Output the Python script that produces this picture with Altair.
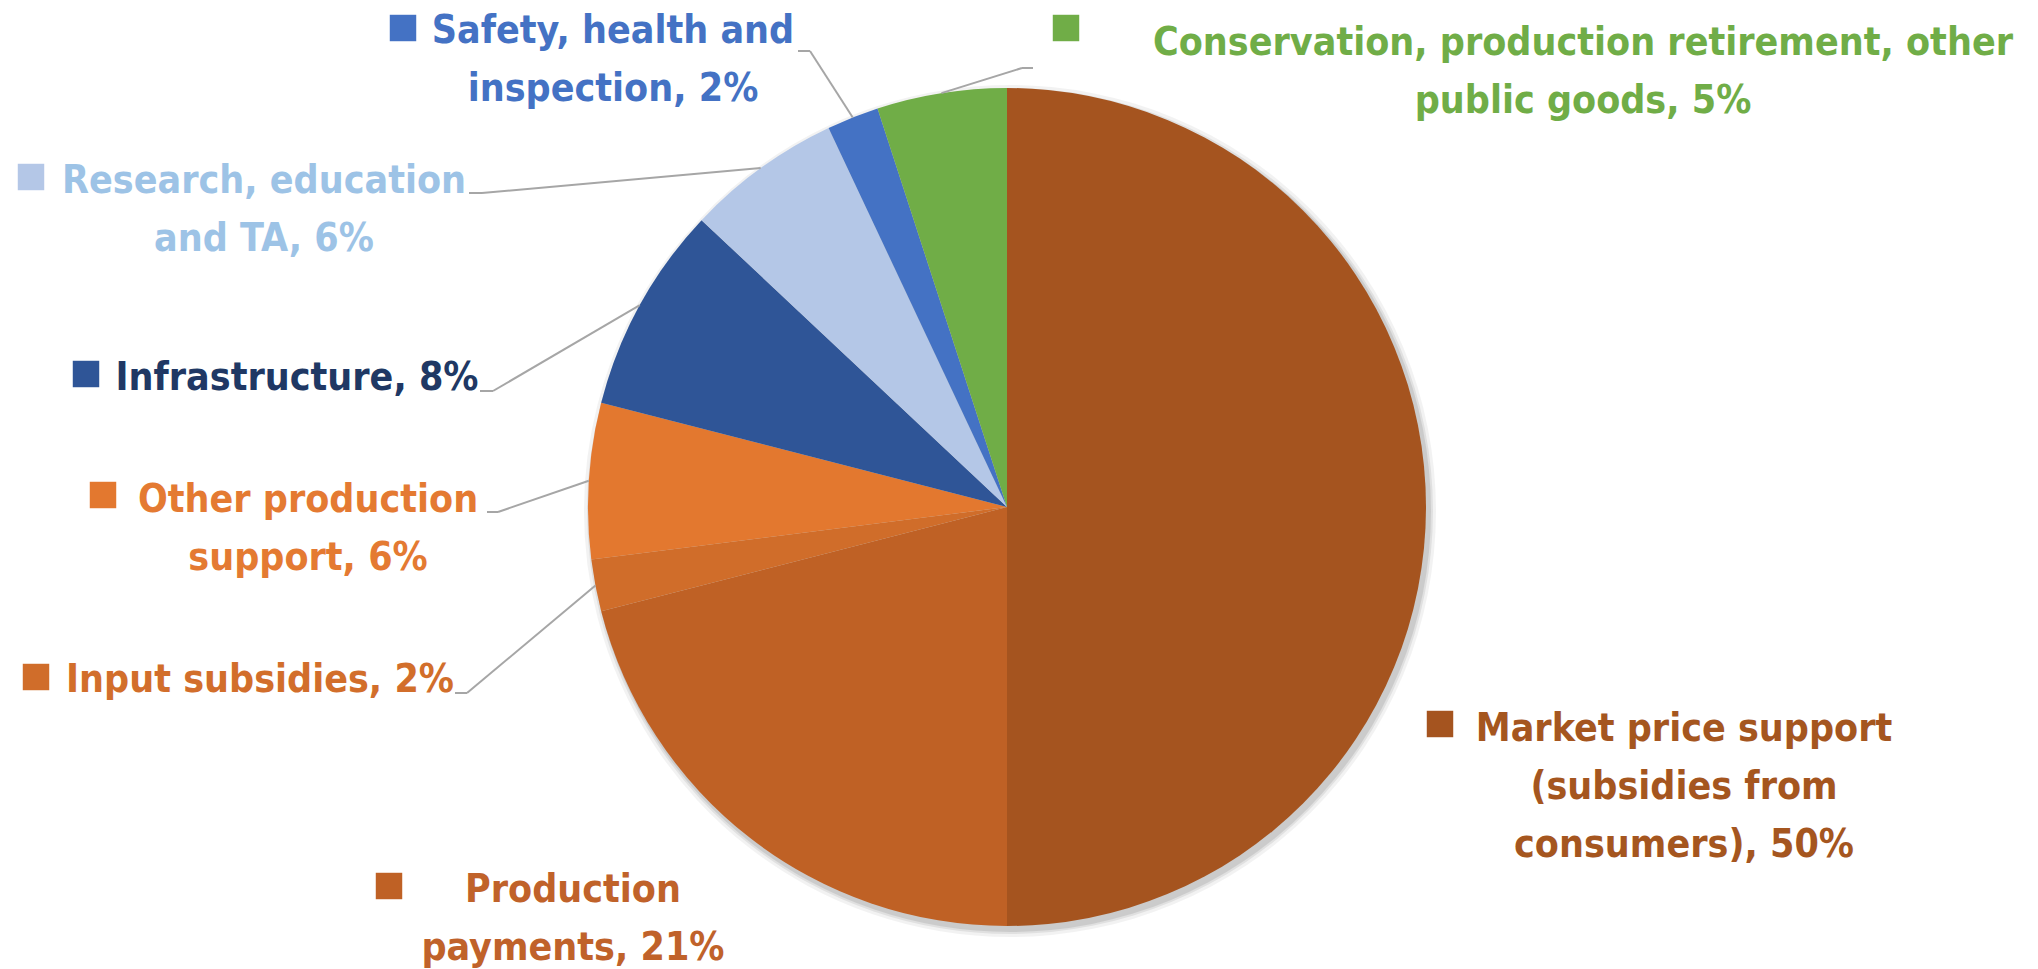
import math
import altair as alt
import pandas as pd

# ---------------- data ----------------
categories = [
    "Market price support (subsidies from consumers)",
    "Production payments",
    "Input subsidies",
    "Other production support",
    "Infrastructure",
    "Research, education and TA",
    "Safety, health and inspection",
    "Conservation, production retirement, other public goods",
]
shares = [50, 21, 2, 6, 8, 6, 2, 5]
label_lines = [
    ["Market price support", "(subsidies from", "consumers), 50%"],
    ["Production", "payments, 21%"],
    ["Input subsidies, 2%"],
    ["Other production", "support, 6%"],
    ["Infrastructure, 8%"],
    ["Research, education", "and TA, 6%"],
    ["Safety, health and", "inspection, 2%"],
    ["Conservation, production retirement, other", "public goods, 5%"],
]

# ---------------- styles / layout ----------------
slice_colors = ["#A5541F", "#BF6125", "#D06D2A", "#E3782F",
                "#2F5597", "#B4C7E7", "#4472C4", "#70AD47"]
text_colors = ["#A5561F", "#C0622A", "#D26E2B", "#E47A32",
               "#203864", "#9DC3E6", "#4472C4", "#70AD47"]
W, H = 2038, 969
CX, CY, R = 1007, 507, 419
FONT = "Liberation Sans Narrow, DejaVu Sans Condensed, Roboto, sans-serif"
FS = 39
# per category: first-line centre x, first baseline y
label_anchor = [(1684, 741), (573, 902), (260, 692), (308, 512),
                (297, 390), (264, 193), (613, 43), (1583, 55)]
line_gap = 58
square_pos = [(1440, 724), (389, 886), (36, 677), (103, 495),
              (86, 374), (31, 177), (403, 28), (1066, 28)]
# leader: label-side end point and elbow (None = no leader)
leader_pts = [None, None, ((455, 693), (467, 693)), ((487, 512), (498, 512)),
              ((480, 391), (493, 391)), ((469, 193), (482, 193)),
              ((798, 51), (810, 51)), ((1033, 68), (1022, 68))]

# ---------------- frames ----------------
pie_df = pd.DataFrame({"category": categories, "value": shares,
                       "idx": list(range(len(categories)))})

rows = []
for i, lines in enumerate(label_lines):
    x0, y0 = label_anchor[i]
    for j, t in enumerate(lines):
        rows.append({"text": t, "x": x0, "y": y0 + j * line_gap, "tc": text_colors[i]})
text_df = pd.DataFrame(rows)

sq_df = pd.DataFrame({"x": [p[0] for p in square_pos], "y": [p[1] for p in square_pos],
                      "category": categories})

total = sum(shares)
seg = []
cum = 0
for i, v in enumerate(shares):
    mid = (cum + v / 2) / total * 2 * math.pi
    cum += v
    if leader_pts[i] is None:
        continue
    ex, ey = CX + R * math.sin(mid), CY - R * math.cos(mid)
    (ax, ay), (bx, by) = leader_pts[i]
    seg.append({"x": ax, "y": ay, "x2": bx, "y2": by})
    seg.append({"x": bx, "y": by, "x2": ex, "y2": ey})
seg_df = pd.DataFrame(seg)

xs = alt.Scale(domain=[0, W], nice=False, zero=False)
ys = alt.Scale(domain=[0, H], nice=False, zero=False, reverse=True)
cscale = alt.Scale(domain=categories, range=slice_colors)

shadow_layers = []
for k, (rr, op) in enumerate([(426, 0.05), (423, 0.07), (421, 0.09)]):
    shadow_layers.append(
        alt.Chart(pie_df).mark_arc(outerRadius=rr, color="#000000", opacity=op).encode(
            theta=alt.Theta("value:Q", stack=True),
            x=alt.value(CX + 3), y=alt.value(CY + 4),
        )
    )

pie = alt.Chart(pie_df).mark_arc(outerRadius=R).encode(
    theta=alt.Theta("value:Q", stack=True),
    order=alt.Order("idx:Q"),
    color=alt.Color("category:N", scale=cscale, legend=None),
    x=alt.value(CX), y=alt.value(CY),
)

leaders = alt.Chart(seg_df).mark_rule(color="#A6A6A6", strokeWidth=2).encode(
    x=alt.X("x:Q", scale=xs, axis=None), y=alt.Y("y:Q", scale=ys, axis=None),
    x2="x2:Q", y2="y2:Q",
)

squares = alt.Chart(sq_df).mark_square(size=700, opacity=1).encode(
    x=alt.X("x:Q", scale=xs, axis=None), y=alt.Y("y:Q", scale=ys, axis=None),
    color=alt.Color("category:N", scale=cscale, legend=None),
)

texts = alt.Chart(text_df).mark_text(
    align="center", baseline="alphabetic", font=FONT, fontSize=FS, fontWeight="bold"
).encode(
    x=alt.X("x:Q", scale=xs, axis=None), y=alt.Y("y:Q", scale=ys, axis=None),
    text="text:N", color=alt.Color("tc:N", scale=None),
)

chart = alt.layer(*shadow_layers, pie, leaders, squares, texts).resolve_scale(
    theta="independent"
).properties(
    width=W, height=H, autosize=alt.AutoSizeParams(type="none"), padding=0,
    background="white",
).configure_view(stroke=None)

chart.save("out.html", embed_options={"renderer": "svg", "actions": False})
